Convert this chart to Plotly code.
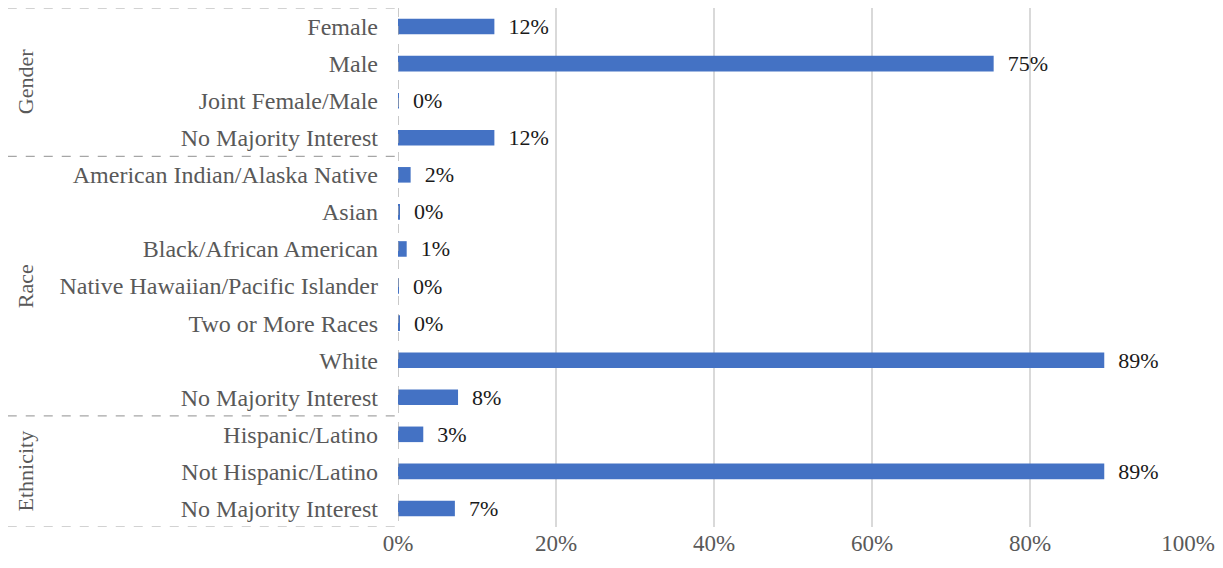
import plotly.graph_objects as go

categories = ["Female", "Male", "Joint Female/Male", "No Majority Interest",
              "American Indian/Alaska Native", "Asian", "Black/African American",
              "Native Hawaiian/Pacific Islander", "Two or More Races", "White",
              "No Majority Interest", "Hispanic/Latino", "Not Hispanic/Latino",
              "No Majority Interest"]
values = [12.2, 75.4, 0.1, 12.2, 1.6, 0.2, 1.1, 0.1, 0.2, 89.4, 7.6, 3.2, 89.4, 7.2]
groups = ["Gender", "Race", "Ethnicity"]
group_sizes = [4, 7, 3]
x_ticks = [0, 20, 40, 60, 80, 100]
x_tick_labels = ["0%", "20%", "40%", "60%", "80%", "100%"]

FONT = "Liberation Serif, Times New Roman, serif"
positions = list(range(len(categories)))

fig = go.Figure(go.Bar(
    x=values, y=positions, orientation="h",
    marker=dict(color="#4472C4", line=dict(width=0)),
    texttemplate="\u00a0\u00a0%{x:.0f}%", textposition="outside",
    constraintext="none",
    textfont=dict(family=FONT, size=22, color="#1a1a1a"),
    cliponaxis=False, width=0.42,
))

shapes = []
dash = dict(color="#a6a6a6", width=1.2, dash="dash")
bounds = [-0.5]
acc = -0.5
for s in group_sizes:
    acc += s
    bounds.append(acc)
for b in bounds:
    shapes.append(dict(type="line", xref="paper", yref="y", x0=-0.494, x1=0,
                       y0=b, y1=b, line=dash))
shapes.append(dict(type="line", xref="x", yref="y", x0=0, x1=0,
                   y0=-0.5, y1=len(categories) - 0.5, line=dash, layer="above"))

annotations = []
start = -0.5
for g, s in zip(groups, group_sizes):
    annotations.append(dict(text=g, xref="paper", yref="y", x=-0.472,
                            xanchor="center", yanchor="middle",
                            y=start + s / 2, textangle=-90, showarrow=False,
                            font=dict(family=FONT, size=22, color="#595959")))
    start += s

fig.update_layout(
    width=1223, height=568,
    margin=dict(l=390, r=43, t=0, b=49),
    paper_bgcolor="white", plot_bgcolor="white",
    showlegend=False,
    shapes=shapes, annotations=annotations,
    xaxis=dict(range=[0, 100], tickvals=x_ticks, ticktext=x_tick_labels,
               showgrid=True, gridcolor="#d9d9d9", gridwidth=2,
               zeroline=True, zerolinecolor="white", zerolinewidth=2,
               showline=False, ticks="",
               tickfont=dict(family=FONT, size=23, color="#595959")),
    yaxis=dict(range=[len(categories) - 0.5, -0.5], tickvals=positions,
               ticktext=categories, showgrid=False, zeroline=False,
               showline=False, ticks="", ticklabelstandoff=19,
               tickfont=dict(family=FONT, size=24, color="#595959")),
)

fig.write_html("out.html")
